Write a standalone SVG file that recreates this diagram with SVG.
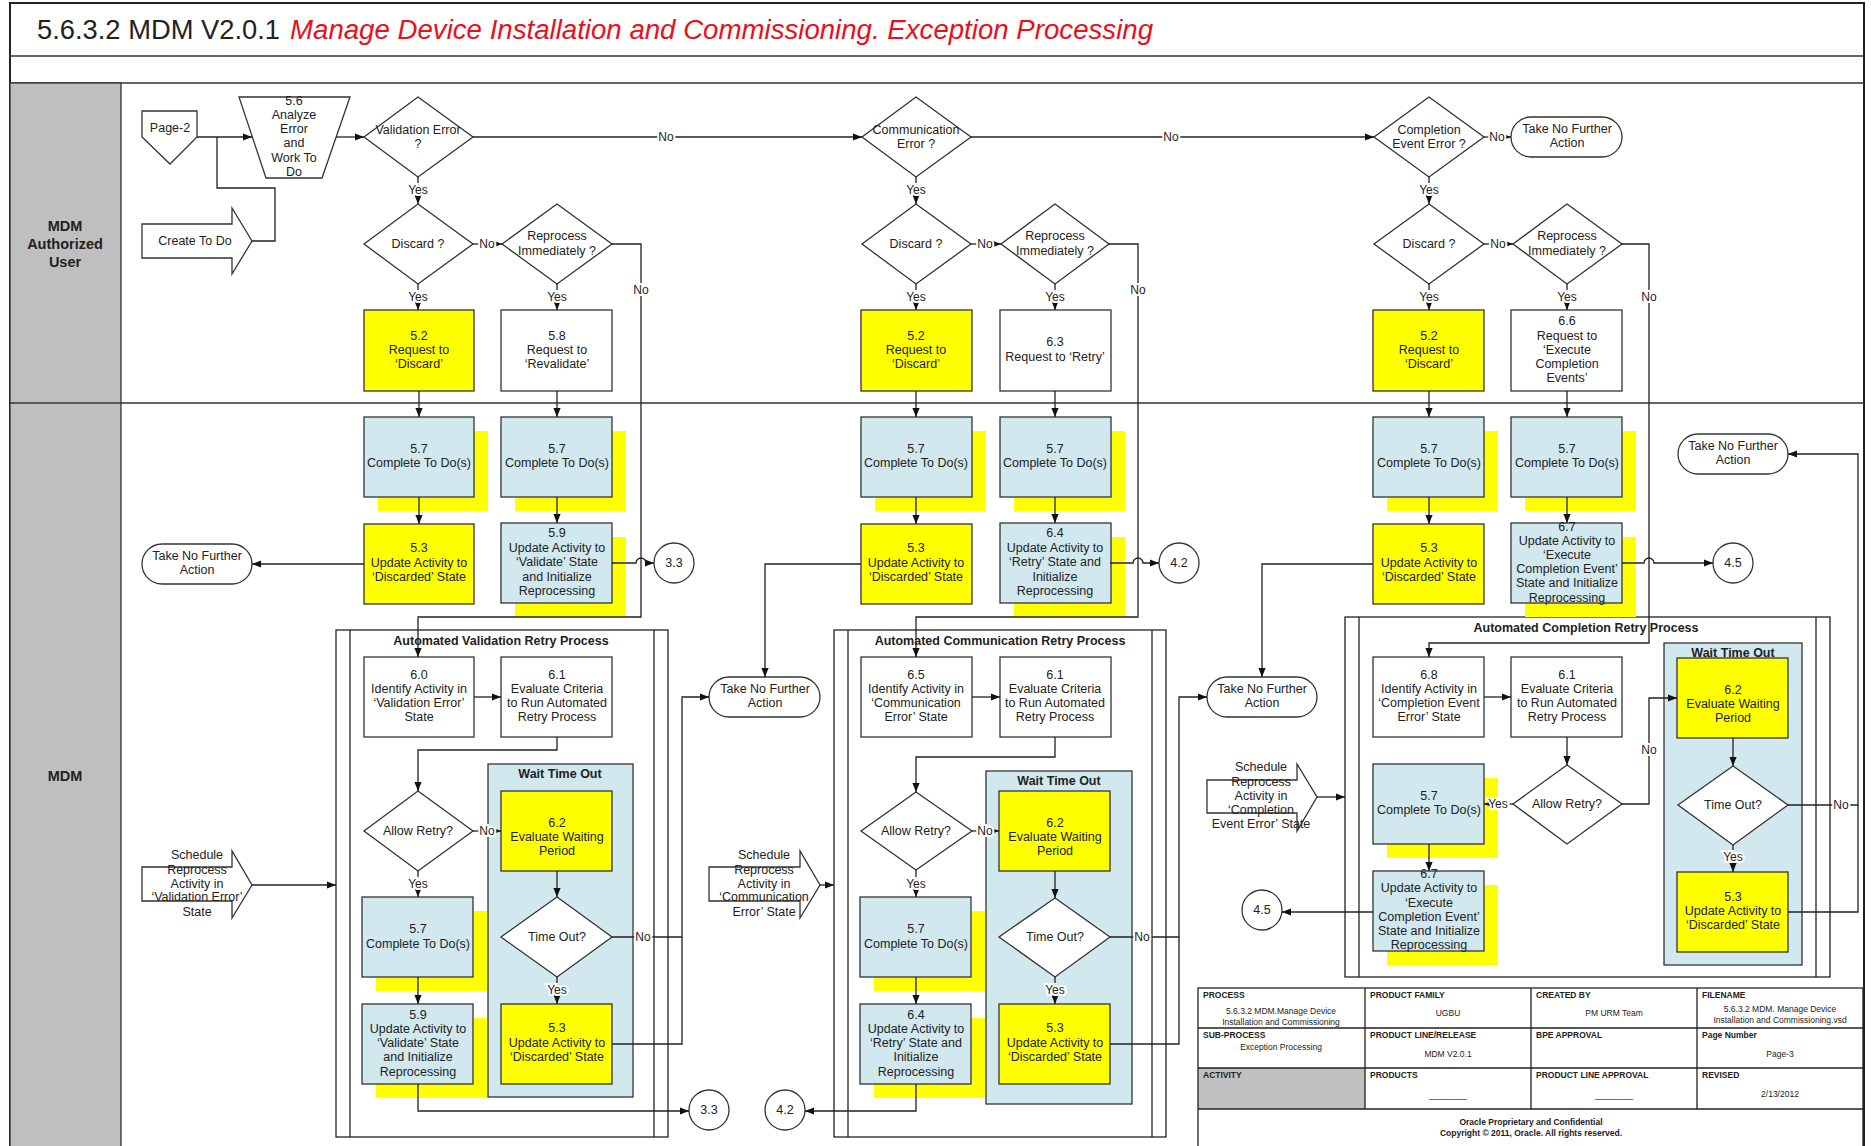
<svg xmlns="http://www.w3.org/2000/svg" width="1871" height="1146" viewBox="0 0 1871 1146">
<defs>
<marker id="a" viewBox="0 0 10 10" refX="10" refY="5" markerWidth="9" markerHeight="9" orient="auto" markerUnits="userSpaceOnUse"><path d="M0,1 L10,5 L0,9 z" fill="#111"/></marker>
<style>
text{font-family:"Liberation Sans",Arial,sans-serif;fill:#222}
.t{font-size:12.5px;text-anchor:middle}
.box{stroke:#333;stroke-width:1.3}
.y{fill:#ffff00}
.b{fill:#d1e8ef}
.w{fill:#fff}
.sh{fill:#ffff00;stroke:none}
.c{fill:none;stroke:#222;stroke-width:1.3}
.ca{fill:none;stroke:#222;stroke-width:1.3;marker-end:url(#a)}
.lbl{font-size:12px;text-anchor:middle;paint-order:stroke;stroke:#fff;stroke-width:4px}
.ct{fill:none;stroke:#222;stroke-width:1.3}
.ctt{font-size:12.5px;font-weight:bold;text-anchor:middle}
.wt{fill:#d1e8ef;stroke:#333;stroke-width:1.3}
.lane{font-size:14.5px;font-weight:bold;text-anchor:middle}
.th{font-size:8.5px;font-weight:bold}
.tv{font-size:8.5px;text-anchor:middle}
.tf{font-size:8.5px;font-weight:bold;text-anchor:middle}
</style>
</defs>

<g id="frame">
<rect x="10" y="3" width="1854" height="1150" fill="#fff" stroke="#222" stroke-width="2"/>
<line x1="10" y1="56" x2="1864" y2="56" stroke="#333" stroke-width="1.5"/>
<line x1="10" y1="83" x2="1864" y2="83" stroke="#333" stroke-width="1.5"/>
<rect x="10" y="83" width="111" height="1070" fill="#bfbfbf" stroke="#333" stroke-width="1.3"/>
<line x1="10" y1="403" x2="1864" y2="403" stroke="#333" stroke-width="1.5"/>
<text x="37" y="39" font-size="27" textLength="243" lengthAdjust="spacingAndGlyphs">5.6.3.2 MDM V2.0.1</text>
<text x="290" y="39" font-size="27" font-style="italic" style="fill:#e8101c" textLength="863" lengthAdjust="spacingAndGlyphs">Manage Device Installation and Commissioning. Exception Processing</text>
<text class="lane" x="65" y="231">MDM</text>
<text class="lane" x="65" y="249">Authorized</text>
<text class="lane" x="65" y="267">User</text>
<text class="lane" x="65" y="781">MDM</text>
</g>

<!-- containers -->
<g id="cont-validation">
<rect class="ct" x="336" y="630" width="332" height="507"/>
<line class="ct" x1="350" y1="630" x2="350" y2="1137"/>
<line class="ct" x1="654" y1="630" x2="654" y2="1137"/>
<text class="ctt" x="501" y="645">Automated Validation Retry Process</text>
</g>
<g id="cont-communication">
<rect class="ct" x="834" y="630" width="332" height="507"/>
<line class="ct" x1="848" y1="630" x2="848" y2="1137"/>
<line class="ct" x1="1152" y1="630" x2="1152" y2="1137"/>
<text class="ctt" x="1000" y="645">Automated Communication Retry Process</text>
</g>
<g id="cont-completion">
<rect class="ct" x="1345" y="617" width="485" height="360"/>
<line class="ct" x1="1359" y1="617" x2="1359" y2="977"/>
<line class="ct" x1="1816" y1="617" x2="1816" y2="977"/>
<text class="ctt" x="1586" y="632">Automated Completion Retry Process</text>
</g>
<g id="wait-v"><rect class="wt" x="488" y="764" width="145" height="333"/><text class="ctt" x="560" y="778">Wait Time Out</text></g>
<g id="wait-c"><rect class="wt" x="986" y="771" width="146" height="333"/><text class="ctt" x="1059" y="785">Wait Time Out</text></g>
<g id="wait-ce"><rect class="wt" x="1664" y="643" width="138" height="322"/><text class="ctt" x="1733" y="657">Wait Time Out</text></g>

<!-- Section 1 nodes -->
<g id="page2"><polygon class="box w" points="142,111 197,111 197,137 170,164 142,137"/><text class="t" x="170" y="132">Page-2</text></g>
<g id="create-todo"><polygon class="box w" points="142,224 232,224 232,208 252,241 232,274 232,258 142,258"/><text class="t" x="195" y="245">Create To Do</text></g>
<g id="n56"><polygon class="box w" points="239,97 350,97 322,178 266,178"/><text class="t" x="294"><tspan x="294" y="105">5.6</tspan><tspan x="294" y="119">Analyze</tspan><tspan x="294" y="133">Error</tspan><tspan x="294" y="147">and</tspan><tspan x="294" y="162">Work To</tspan><tspan x="294" y="176">Do</tspan></text></g>
<g id="d-valerr"><polygon class="box w" points="418,97 473,137 418,177 364,137"/><text class="t"><tspan x="418" y="134">Validation Error</tspan><tspan x="418" y="148">?</tspan></text></g>
<g id="d-discard1"><polygon class="box w" points="418,204 473,244 418,284 364,244"/><text class="t" x="418" y="248">Discard ?</text></g>
<g id="d-reproc1"><polygon class="box w" points="557,204 612,244 557,284 502,244"/><text class="t"><tspan x="557" y="240">Reprocess</tspan><tspan x="557" y="255">Immediately ?</tspan></text></g>
<g id="n52a"><rect class="box y" x="364" y="310" width="110" height="81"/><text class="t"><tspan x="419" y="340">5.2</tspan><tspan x="419" y="354">Request to</tspan><tspan x="419" y="368">‘Discard’</tspan></text></g>
<g id="n58"><rect class="box w" x="501" y="310" width="111" height="81"/><text class="t"><tspan x="557" y="340">5.8</tspan><tspan x="557" y="354">Request to</tspan><tspan x="557" y="368">‘Revalidate’</tspan></text></g>
<g id="n57a"><rect class="sh" x="378" y="431" width="110" height="80"/><rect class="box b" x="364" y="417" width="110" height="80"/><text class="t"><tspan x="419" y="453">5.7</tspan><tspan x="419" y="467">Complete To Do(s)</tspan></text></g>
<g id="n57b"><rect class="sh" x="515" y="431" width="111" height="80"/><rect class="box b" x="501" y="417" width="111" height="80"/><text class="t"><tspan x="557" y="453">5.7</tspan><tspan x="557" y="467">Complete To Do(s)</tspan></text></g>
<g id="n53a"><rect class="box y" x="364" y="524" width="110" height="80"/><text class="t"><tspan x="419" y="552">5.3</tspan><tspan x="419" y="567">Update Activity to</tspan><tspan x="419" y="581">‘Discarded’ State</tspan></text></g>
<g id="n59a"><rect class="sh" x="515" y="537" width="111" height="80"/><rect class="box b" x="501" y="523" width="111" height="80"/><text class="t"><tspan x="557" y="537">5.9</tspan><tspan x="557" y="552">Update Activity to</tspan><tspan x="557" y="566">‘Validate’ State</tspan><tspan x="557" y="581">and Initialize</tspan><tspan x="557" y="595">Reprocessing</tspan></text></g>
<g id="tnfa1"><rect class="box w" x="142" y="544" width="110" height="40" rx="20"/><text class="t"><tspan x="197" y="560">Take No Further</tspan><tspan x="197" y="574">Action</tspan></text></g>
<g id="c33a"><circle class="box w" cx="674" cy="563" r="20"/><text class="t" x="674" y="567">3.3</text></g>
<g id="n60"><rect class="box w" x="364" y="657" width="110" height="80"/><text class="t"><tspan x="419" y="679">6.0</tspan><tspan x="419" y="693">Identify Activity in</tspan><tspan x="419" y="707">‘Validation Error’</tspan><tspan x="419" y="721">State</tspan></text></g>
<g id="n61a"><rect class="box w" x="501" y="657" width="111" height="80"/><text class="t"><tspan x="557" y="679">6.1</tspan><tspan x="557" y="693">Evaluate Criteria</tspan><tspan x="557" y="707">to Run Automated</tspan><tspan x="557" y="721">Retry Process</tspan></text></g>
<g id="d-allow1"><polygon class="box w" points="418,791 473,831 418,871 364,831"/><text class="t" x="418" y="835">Allow Retry?</text></g>
<g id="n62a"><rect class="box y" x="501" y="791" width="111" height="80"/><text class="t"><tspan x="557" y="827">6.2</tspan><tspan x="557" y="841">Evaluate Waiting</tspan><tspan x="557" y="855">Period</tspan></text></g>
<g id="d-timeout1"><polygon class="box w" points="557,897 612,937 557,977 501,937"/><text class="t" x="557" y="941">Time Out?</text></g>
<g id="n53b"><rect class="box y" x="501" y="1004" width="111" height="80"/><text class="t"><tspan x="557" y="1032">5.3</tspan><tspan x="557" y="1047">Update Activity to</tspan><tspan x="557" y="1061">‘Discarded’ State</tspan></text></g>
<g id="n57c"><rect class="sh" x="376" y="911" width="111" height="80"/><rect class="box b" x="362" y="897" width="111" height="80"/><text class="t"><tspan x="418" y="933">5.7</tspan><tspan x="418" y="948">Complete To Do(s)</tspan></text></g>
<g id="n59b"><rect class="sh" x="376" y="1018" width="111" height="80"/><rect class="box b" x="362" y="1004" width="111" height="80"/><text class="t"><tspan x="418" y="1019">5.9</tspan><tspan x="418" y="1033">Update Activity to</tspan><tspan x="418" y="1047">‘Validate’ State</tspan><tspan x="418" y="1061">and Initialize</tspan><tspan x="418" y="1076">Reprocessing</tspan></text></g>
<g id="c33b"><circle class="box w" cx="709" cy="1110" r="20"/><text class="t" x="709" y="1114">3.3</text></g>
<g id="sched-v"><polygon class="box w" points="142,867 232,867 232,851 252,885 232,918 232,901 142,901"/><text class="t"><tspan x="197" y="859">Schedule</tspan><tspan x="197" y="874">Reprocess</tspan><tspan x="197" y="888">Activity in</tspan><tspan x="197" y="901">‘Validation Error’</tspan><tspan x="197" y="916">State</tspan></text></g>
<g id="tnfa2"><rect class="box w" x="709" y="677" width="111" height="40" rx="20"/><text class="t"><tspan x="765" y="693">Take No Further</tspan><tspan x="765" y="707">Action</tspan></text></g>

<!-- Section 2 nodes -->
<g id="d-commerr"><polygon class="box w" points="916,97 971,137 916,177 862,137"/><text class="t"><tspan x="916" y="134">Communication</tspan><tspan x="916" y="148">Error ?</tspan></text></g>
<g id="d-discard2"><polygon class="box w" points="916,204 971,244 916,284 862,244"/><text class="t" x="916" y="248">Discard ?</text></g>
<g id="d-reproc2"><polygon class="box w" points="1055,204 1109,244 1055,284 1001,244"/><text class="t"><tspan x="1055" y="240">Reprocess</tspan><tspan x="1055" y="255">Immediately ?</tspan></text></g>
<g id="n52b"><rect class="box y" x="861" y="310" width="111" height="81"/><text class="t"><tspan x="916" y="340">5.2</tspan><tspan x="916" y="354">Request to</tspan><tspan x="916" y="368">‘Discard’</tspan></text></g>
<g id="n63"><rect class="box w" x="1000" y="310" width="111" height="81"/><text class="t"><tspan x="1055" y="346">6.3</tspan><tspan x="1055" y="361">Request to ‘Retry’</tspan></text></g>
<g id="n57d"><rect class="sh" x="875" y="431" width="111" height="80"/><rect class="box b" x="861" y="417" width="111" height="80"/><text class="t"><tspan x="916" y="453">5.7</tspan><tspan x="916" y="467">Complete To Do(s)</tspan></text></g>
<g id="n57e"><rect class="sh" x="1014" y="431" width="111" height="80"/><rect class="box b" x="1000" y="417" width="111" height="80"/><text class="t"><tspan x="1055" y="453">5.7</tspan><tspan x="1055" y="467">Complete To Do(s)</tspan></text></g>
<g id="n53c"><rect class="box y" x="861" y="524" width="111" height="80"/><text class="t"><tspan x="916" y="552">5.3</tspan><tspan x="916" y="567">Update Activity to</tspan><tspan x="916" y="581">‘Discarded’ State</tspan></text></g>
<g id="n64a"><rect class="sh" x="1014" y="537" width="111" height="80"/><rect class="box b" x="1000" y="523" width="111" height="80"/><text class="t"><tspan x="1055" y="537">6.4</tspan><tspan x="1055" y="552">Update Activity to</tspan><tspan x="1055" y="566">‘Retry’ State and</tspan><tspan x="1055" y="581">Initialize</tspan><tspan x="1055" y="595">Reprocessing</tspan></text></g>
<g id="c42a"><circle class="box w" cx="1179" cy="563" r="20"/><text class="t" x="1179" y="567">4.2</text></g>
<g id="n65"><rect class="box w" x="861" y="657" width="111" height="80"/><text class="t"><tspan x="916" y="679">6.5</tspan><tspan x="916" y="693">Identify Activity in</tspan><tspan x="916" y="707">‘Communication</tspan><tspan x="916" y="721">Error’ State</tspan></text></g>
<g id="n61b"><rect class="box w" x="1000" y="657" width="111" height="80"/><text class="t"><tspan x="1055" y="679">6.1</tspan><tspan x="1055" y="693">Evaluate Criteria</tspan><tspan x="1055" y="707">to Run Automated</tspan><tspan x="1055" y="721">Retry Process</tspan></text></g>
<g id="d-allow2"><polygon class="box w" points="916,792 972,831 916,870 861,831"/><text class="t" x="916" y="835">Allow Retry?</text></g>
<g id="n62b"><rect class="box y" x="999" y="791" width="111" height="80"/><text class="t"><tspan x="1055" y="827">6.2</tspan><tspan x="1055" y="841">Evaluate Waiting</tspan><tspan x="1055" y="855">Period</tspan></text></g>
<g id="d-timeout2"><polygon class="box w" points="1055,898 1110,937 1055,977 999,937"/><text class="t" x="1055" y="941">Time Out?</text></g>
<g id="n53d"><rect class="box y" x="999" y="1004" width="111" height="80"/><text class="t"><tspan x="1055" y="1032">5.3</tspan><tspan x="1055" y="1047">Update Activity to</tspan><tspan x="1055" y="1061">‘Discarded’ State</tspan></text></g>
<g id="n57f"><rect class="sh" x="874" y="911" width="111" height="80"/><rect class="box b" x="860" y="897" width="111" height="80"/><text class="t"><tspan x="916" y="933">5.7</tspan><tspan x="916" y="948">Complete To Do(s)</tspan></text></g>
<g id="n64b"><rect class="sh" x="874" y="1018" width="111" height="80"/><rect class="box b" x="860" y="1004" width="111" height="80"/><text class="t"><tspan x="916" y="1019">6.4</tspan><tspan x="916" y="1033">Update Activity to</tspan><tspan x="916" y="1047">‘Retry’ State and</tspan><tspan x="916" y="1061">Initialize</tspan><tspan x="916" y="1076">Reprocessing</tspan></text></g>
<g id="c42b"><circle class="box w" cx="785" cy="1110" r="20"/><text class="t" x="785" y="1114">4.2</text></g>
<g id="sched-c"><polygon class="box w" points="709,867 800,867 800,851 820,885 800,918 800,901 709,901"/><text class="t"><tspan x="764" y="859">Schedule</tspan><tspan x="764" y="874">Reprocess</tspan><tspan x="764" y="888">Activity in</tspan><tspan x="764" y="901">‘Communication</tspan><tspan x="764" y="916">Error’ State</tspan></text></g>
<g id="tnfa3"><rect class="box w" x="1207" y="677" width="110" height="40" rx="20"/><text class="t"><tspan x="1262" y="693">Take No Further</tspan><tspan x="1262" y="707">Action</tspan></text></g>

<!-- Section 3 nodes -->
<g id="d-complerr"><polygon class="box w" points="1429,97 1484,137 1429,177 1374,137"/><text class="t"><tspan x="1429" y="134">Completion</tspan><tspan x="1429" y="148">Event Error ?</tspan></text></g>
<g id="tnfa4"><rect class="box w" x="1511" y="117" width="111" height="40" rx="20"/><text class="t"><tspan x="1567" y="133">Take No Further</tspan><tspan x="1567" y="147">Action</tspan></text></g>
<g id="d-discard3"><polygon class="box w" points="1429,204 1484,244 1429,284 1374,244"/><text class="t" x="1429" y="248">Discard ?</text></g>
<g id="d-reproc3"><polygon class="box w" points="1567,204 1622,244 1567,284 1513,244"/><text class="t"><tspan x="1567" y="240">Reprocess</tspan><tspan x="1567" y="255">Immediately ?</tspan></text></g>
<g id="n52c"><rect class="box y" x="1373" y="310" width="111" height="81"/><text class="t"><tspan x="1429" y="340">5.2</tspan><tspan x="1429" y="354">Request to</tspan><tspan x="1429" y="368">‘Discard’</tspan></text></g>
<g id="n66"><rect class="box w" x="1511" y="310" width="111" height="81"/><text class="t"><tspan x="1567" y="325">6.6</tspan><tspan x="1567" y="340">Request to</tspan><tspan x="1567" y="354">‘Execute</tspan><tspan x="1567" y="368">Completion</tspan><tspan x="1567" y="382">Events’</tspan></text></g>
<g id="n57g"><rect class="sh" x="1387" y="431" width="111" height="80"/><rect class="box b" x="1373" y="417" width="111" height="80"/><text class="t"><tspan x="1429" y="453">5.7</tspan><tspan x="1429" y="467">Complete To Do(s)</tspan></text></g>
<g id="n57h"><rect class="sh" x="1525" y="431" width="111" height="80"/><rect class="box b" x="1511" y="417" width="111" height="80"/><text class="t"><tspan x="1567" y="453">5.7</tspan><tspan x="1567" y="467">Complete To Do(s)</tspan></text></g>
<g id="n53e"><rect class="box y" x="1373" y="524" width="111" height="80"/><text class="t"><tspan x="1429" y="552">5.3</tspan><tspan x="1429" y="567">Update Activity to</tspan><tspan x="1429" y="581">‘Discarded’ State</tspan></text></g>
<g id="n67a"><rect class="sh" x="1525" y="537" width="111" height="80"/><rect class="box b" x="1511" y="523" width="111" height="80"/><text class="t"><tspan x="1567" y="531">6.7</tspan><tspan x="1567" y="545">Update Activity to</tspan><tspan x="1567" y="559">‘Execute</tspan><tspan x="1567" y="573">Completion Event’</tspan><tspan x="1567" y="587">State and Initialize</tspan><tspan x="1567" y="602">Reprocessing</tspan></text></g>
<g id="c45a"><circle class="box w" cx="1733" cy="563" r="20"/><text class="t" x="1733" y="567">4.5</text></g>
<g id="tnfa5"><rect class="box w" x="1678" y="434" width="110" height="40" rx="20"/><text class="t"><tspan x="1733" y="450">Take No Further</tspan><tspan x="1733" y="464">Action</tspan></text></g>
<g id="n68"><rect class="box w" x="1373" y="657" width="111" height="80"/><text class="t"><tspan x="1429" y="679">6.8</tspan><tspan x="1429" y="693">Identify Activity in</tspan><tspan x="1429" y="707">‘Completion Event</tspan><tspan x="1429" y="721">Error’ State</tspan></text></g>
<g id="n61c"><rect class="box w" x="1511" y="657" width="111" height="80"/><text class="t"><tspan x="1567" y="679">6.1</tspan><tspan x="1567" y="693">Evaluate Criteria</tspan><tspan x="1567" y="707">to Run Automated</tspan><tspan x="1567" y="721">Retry Process</tspan></text></g>
<g id="d-allow3"><polygon class="box w" points="1567,765 1622,804 1567,844 1513,804"/><text class="t" x="1567" y="808">Allow Retry?</text></g>
<g id="n62c"><rect class="box y" x="1677" y="658" width="111" height="80"/><text class="t"><tspan x="1733" y="694">6.2</tspan><tspan x="1733" y="708">Evaluate Waiting</tspan><tspan x="1733" y="722">Period</tspan></text></g>
<g id="d-timeout3"><polygon class="box w" points="1733,766 1788,805 1733,845 1678,805"/><text class="t" x="1733" y="809">Time Out?</text></g>
<g id="n53f"><rect class="box y" x="1677" y="872" width="111" height="80"/><text class="t"><tspan x="1733" y="901">5.3</tspan><tspan x="1733" y="915">Update Activity to</tspan><tspan x="1733" y="929">‘Discarded’ State</tspan></text></g>
<g id="n57i"><rect class="sh" x="1387" y="778" width="111" height="80"/><rect class="box b" x="1373" y="764" width="111" height="80"/><text class="t"><tspan x="1429" y="800">5.7</tspan><tspan x="1429" y="814">Complete To Do(s)</tspan></text></g>
<g id="n67b"><rect class="sh" x="1387" y="885" width="111" height="80"/><rect class="box b" x="1373" y="871" width="111" height="80"/><text class="t"><tspan x="1429" y="878">6.7</tspan><tspan x="1429" y="892">Update Activity to</tspan><tspan x="1429" y="907">‘Execute</tspan><tspan x="1429" y="921">Completion Event’</tspan><tspan x="1429" y="935">State and Initialize</tspan><tspan x="1429" y="949">Reprocessing</tspan></text></g>
<g id="c45b"><circle class="box w" cx="1262" cy="910" r="20"/><text class="t" x="1262" y="914">4.5</text></g>
<g id="sched-ce"><polygon class="box w" points="1207,780 1297,780 1297,764 1317,797 1297,831 1297,813 1207,813"/><text class="t"><tspan x="1261" y="771">Schedule</tspan><tspan x="1261" y="786">Reprocess</tspan><tspan x="1261" y="800">Activity in</tspan><tspan x="1261" y="814">‘Completion</tspan><tspan x="1261" y="828">Event Error’ State</tspan></text></g>

<!-- connectors -->
<g id="connectors">
<path class="ca" d="M197,137 H252"/>
<path class="c" d="M252,241 H275 V188 H217 V137"/>
<path class="ca" d="M336,137 H364"/>
<path class="ca" d="M473,137 H862"/>
<path class="ca" d="M971,137 H1374"/>
<path class="ca" d="M1484,137 H1511"/>
<path class="ca" d="M418,177 V204"/>
<path class="ca" d="M473,244 H502"/>
<path class="ca" d="M418,284 V310"/>
<path class="ca" d="M557,284 V310"/>
<path class="ca" d="M612,244 H641 V617 H418 V657"/>
<path class="ca" d="M419,391 V417"/>
<path class="ca" d="M557,391 V417"/>
<path class="ca" d="M419,497 V524"/>
<path class="ca" d="M557,497 V523"/>
<path class="ca" d="M364,564 H252"/>
<path class="ca" d="M612,563 H636 a5,5 0 0 1 10,0 H654"/>
<path class="ca" d="M474,697 H501"/>
<path class="ca" d="M557,737 V750 H418 V791"/>
<path class="ca" d="M473,831 H501"/>
<path class="ca" d="M418,871 V897"/>
<path class="ca" d="M557,871 V897"/>
<path class="ca" d="M557,977 V1004"/>
<path class="ca" d="M612,937 H682 V697 H709"/>
<path class="c" d="M612,1044 H682 V937"/>
<path class="ca" d="M418,977 V1004"/>
<path class="ca" d="M418,1084 V1111 H689"/>
<path class="ca" d="M252,885 H336"/>

<path class="ca" d="M916,177 V204"/>
<path class="ca" d="M971,244 H1001"/>
<path class="ca" d="M916,284 V310"/>
<path class="ca" d="M1055,284 V310"/>
<path class="ca" d="M1109,244 H1138 V617 H916 V657"/>
<path class="ca" d="M916,391 V417"/>
<path class="ca" d="M1055,391 V417"/>
<path class="ca" d="M916,497 V524"/>
<path class="ca" d="M1055,497 V523"/>
<path class="ca" d="M861,564 H765 V677"/>
<path class="ca" d="M1110,563 H1133 a5,5 0 0 1 10,0 H1159"/>
<path class="ca" d="M972,697 H1000"/>
<path class="ca" d="M1055,737 V757 H916 V792"/>
<path class="ca" d="M972,831 H999"/>
<path class="ca" d="M916,870 V897"/>
<path class="ca" d="M1055,871 V898"/>
<path class="ca" d="M1055,977 V1004"/>
<path class="ca" d="M1110,937 H1179 V697 H1207"/>
<path class="c" d="M1110,1044 H1179 V937"/>
<path class="ca" d="M916,977 V1004"/>
<path class="ca" d="M916,1084 V1111 H805"/>
<path class="ca" d="M820,885 H834"/>

<path class="ca" d="M1429,177 V204"/>
<path class="ca" d="M1484,244 H1513"/>
<path class="ca" d="M1429,284 V310"/>
<path class="ca" d="M1567,284 V310"/>
<path class="ca" d="M1622,244 H1649 V643 H1429 V657"/>
<path class="ca" d="M1429,391 V417"/>
<path class="ca" d="M1567,391 V417"/>
<path class="ca" d="M1429,497 V524"/>
<path class="ca" d="M1567,497 V523"/>
<path class="ca" d="M1373,564 H1262 V677"/>
<path class="ca" d="M1622,563 H1644 a5,5 0 0 1 10,0 H1713"/>
<path class="ca" d="M1484,697 H1511"/>
<path class="ca" d="M1567,737 V765"/>
<path class="ca" d="M1513,804 H1484"/>
<path class="ca" d="M1622,804 H1649 V698 H1677"/>
<path class="ca" d="M1733,738 V766"/>
<path class="ca" d="M1733,845 V872"/>
<path class="ca" d="M1788,805 H1858 V454 H1788"/>
<path class="c" d="M1788,912 H1858 V805"/>
<path class="ca" d="M1429,844 V871"/>
<path class="ca" d="M1373,912 H1282"/>
<path class="ca" d="M1317,797 H1345"/>
</g>

<g id="connector-labels">
<text class="lbl" x="666" y="141">No</text>
<text class="lbl" x="1171" y="141">No</text>
<text class="lbl" x="1497" y="141">No</text>
<text class="lbl" x="418" y="194">Yes</text>
<text class="lbl" x="487" y="248">No</text>
<text class="lbl" x="418" y="301">Yes</text>
<text class="lbl" x="557" y="301">Yes</text>
<text class="lbl" x="641" y="294">No</text>
<text class="lbl" x="487" y="835">No</text>
<text class="lbl" x="418" y="888">Yes</text>
<text class="lbl" x="557" y="994">Yes</text>
<text class="lbl" x="643" y="941">No</text>
<text class="lbl" x="916" y="194">Yes</text>
<text class="lbl" x="985" y="248">No</text>
<text class="lbl" x="916" y="301">Yes</text>
<text class="lbl" x="1055" y="301">Yes</text>
<text class="lbl" x="1138" y="294">No</text>
<text class="lbl" x="985" y="835">No</text>
<text class="lbl" x="916" y="888">Yes</text>
<text class="lbl" x="1055" y="994">Yes</text>
<text class="lbl" x="1142" y="941">No</text>
<text class="lbl" x="1429" y="194">Yes</text>
<text class="lbl" x="1498" y="248">No</text>
<text class="lbl" x="1429" y="301">Yes</text>
<text class="lbl" x="1567" y="301">Yes</text>
<text class="lbl" x="1649" y="301">No</text>
<text class="lbl" x="1498" y="808">Yes</text>
<text class="lbl" x="1649" y="754">No</text>
<text class="lbl" x="1733" y="861">Yes</text>
<text class="lbl" x="1841" y="809">No</text>
</g>

<!-- Title block -->
<g id="titleblock">
<rect x="1198" y="1068" width="167" height="41" fill="#c0c0c0"/>
<rect x="1198" y="988" width="665" height="165" fill="none" stroke="#222" stroke-width="1.3"/>
<path d="M1198,1028 H1863 M1198,1068 H1863 M1198,1109 H1863 M1365,988 V1109 M1531,988 V1109 M1697,988 V1109" fill="none" stroke="#222" stroke-width="1.3"/>
<text class="th" x="1203" y="998">PROCESS</text>
<text class="tv" x="1281" y="1014">5.6.3.2 MDM.Manage Device</text>
<text class="tv" x="1281" y="1025">Installation and Commissioning</text>
<text class="th" x="1370" y="998">PRODUCT FAMILY</text>
<text class="tv" x="1448" y="1016">UGBU</text>
<text class="th" x="1536" y="998">CREATED BY</text>
<text class="tv" x="1614" y="1016">PM URM Team</text>
<text class="th" x="1702" y="998">FILENAME</text>
<text class="tv" x="1780" y="1012">5.6.3.2 MDM. Manage Device</text>
<text class="tv" x="1780" y="1023">Installation and Commissioning.vsd</text>
<text class="th" x="1203" y="1038">SUB-PROCESS</text>
<text class="tv" x="1281" y="1050">Exception Processing</text>
<text class="th" x="1370" y="1038">PRODUCT LINE/RELEASE</text>
<text class="tv" x="1448" y="1057">MDM V2.0.1</text>
<text class="th" x="1536" y="1038">BPE APPROVAL</text>
<text class="th" x="1702" y="1038">Page Number</text>
<text class="tv" x="1780" y="1057">Page-3</text>
<text class="th" x="1203" y="1078">ACTIVITY</text>
<text class="th" x="1370" y="1078">PRODUCTS</text>
<text class="tv" x="1448" y="1098">________</text>
<text class="th" x="1536" y="1078">PRODUCT LINE APPROVAL</text>
<text class="tv" x="1614" y="1098">________</text>
<text class="th" x="1702" y="1078">REVISED</text>
<text class="tv" x="1780" y="1097">2/13/2012</text>
<text class="tf" x="1531" y="1125">Oracle Proprietary and Confidential</text>
<text class="tf" x="1531" y="1136">Copyright © 2011, Oracle. All rights reserved.</text>
</g>
</svg>
